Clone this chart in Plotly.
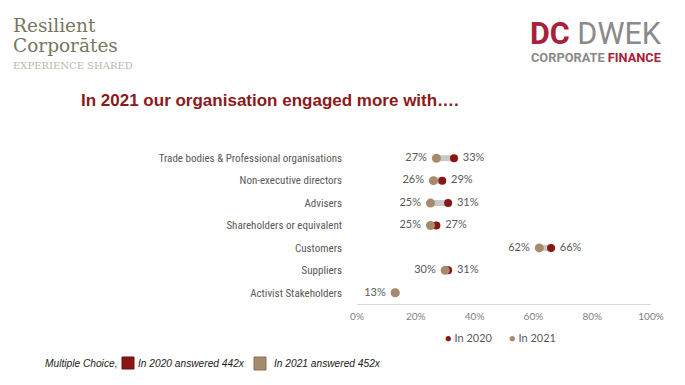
import plotly.graph_objects as go

categories = [
    "Trade bodies & Professional organisations",
    "Non-executive directors",
    "Advisers",
    "Shareholders or equivalent",
    "Customers",
    "Suppliers",
    "Activist Stakeholders",
]
values_2020 = [33, 29, 31, 27, 66, 31, 13]
values_2021 = [27, 26, 25, 25, 62, 30, 13]
x_ticks = [0, 20, 40, 60, 80, 100]
x_tick_labels = ["0%", "20%", "40%", "60%", "80%", "100%"]

RED = "#8B1414"
TAN = "#A68A6D"
GREY_TXT = "#595959"

W, H = 685, 385
L, R, T, B = 357, 34, 147, 81
PW, PH = W - L - R, H - T - B


def px(x):
    return (x - L) / PW


def py(y):
    return (H - B - y) / PH


# connectors
cx, cy = [], []
for c, a, b in zip(categories, values_2021, values_2020):
    cx += [a, b, None]
    cy += [c, c, None]

text_2020 = [f" {b}%" if b != a else "" for a, b in zip(values_2021, values_2020)]
text_2021 = [f"{a}% " for a in values_2021]

fig = go.Figure()
fig.add_trace(go.Scatter(
    x=cx, y=cy, mode="lines", line=dict(color="#C8C8C8", width=6),
    showlegend=False, hoverinfo="skip"))
fig.add_trace(go.Scatter(
    x=values_2020, y=categories, mode="markers+text", name="In 2020",
    marker=dict(color=RED, size=8),
    text=text_2020, textposition="middle right",
    textfont=dict(family="Lato, Open Sans, sans-serif", size=11, color=GREY_TXT)))
fig.add_trace(go.Scatter(
    x=values_2021, y=categories, mode="markers+text", name="In 2021",
    marker=dict(color=TAN, size=9),
    text=text_2021, textposition="middle left",
    textfont=dict(family="Lato, Open Sans, sans-serif", size=11, color=GREY_TXT)))

LOGO_FONT = "DejaVu Serif, serif"
annotations = [
    dict(text="Resilient", x=px(11), y=py(26), font=dict(family=LOGO_FONT, size=18.5, color="#77775F")),
    dict(text="Corporātes", x=px(11), y=py(46), font=dict(family=LOGO_FONT, size=18.5, color="#77775F")),
    dict(text="EXPERIENCE SHARED", x=px(11), y=py(66), font=dict(family=LOGO_FONT, size=10, color="#B8B8AC")),
    dict(text="<b><span style='color:#A8203A'>DC</span></b> <span style='color:#8A8A8A'>DWEK</span>",
         x=px(528), y=py(34), font=dict(family="Roboto, sans-serif", size=30.5)),
    dict(text="<b><span style='color:#8A8A8A'>CORPORATE</span> <span style='color:#A8203A'>FINANCE</span></b>",
         x=px(529), y=py(58), font=dict(family="Roboto, sans-serif", size=12.8)),
    dict(text="<b>In 2021 our organisation engaged more with….</b>", x=px(79), y=py(100),
         font=dict(family="Liberation Sans, Arial, sans-serif", size=17, color="#8B1A1A")),
    dict(text="<i>Multiple Choice,</i>", x=px(43), y=py(363),
         font=dict(family="Liberation Sans, Arial, sans-serif", size=10.2, color="#222222")),
    dict(text="<i>In 2020 answered 442x</i>", x=px(136), y=py(363),
         font=dict(family="Liberation Sans, Arial, sans-serif", size=10.2, color="#222222")),
    dict(text="<i>In 2021 answered 452x</i>", x=px(272), y=py(363),
         font=dict(family="Liberation Sans, Arial, sans-serif", size=10.2, color="#222222")),
    dict(text=f"<span style='color:{RED}'>●</span> In 2020", x=px(443), y=py(337),
         font=dict(family="Lato, Open Sans, sans-serif", size=11, color=GREY_TXT)),
    dict(text=f"<span style='color:{TAN}'>●</span> In 2021", x=px(507), y=py(337),
         font=dict(family="Lato, Open Sans, sans-serif", size=11, color=GREY_TXT)),
]
for a in annotations:
    a.update(xref="paper", yref="paper", xanchor="left", yanchor="middle", showarrow=False)

shapes = [
    dict(type="rect", xref="paper", yref="paper", x0=px(122), x1=px(134), y0=py(369), y1=py(357),
         fillcolor="#8B1414", line=dict(color="#6E1010", width=1)),
    dict(type="rect", xref="paper", yref="paper", x0=px(254), x1=px(266), y0=py(370), y1=py(357),
         fillcolor="#A68A6D", line=dict(color="#8C7358", width=1)),
]

fig.update_layout(
    width=W, height=H,
    margin=dict(l=L, r=R, t=T, b=B),
    paper_bgcolor="white", plot_bgcolor="white",
    annotations=annotations, shapes=shapes,
    showlegend=False,
    xaxis=dict(range=[0, 100], tickvals=x_ticks, ticktext=x_tick_labels, showgrid=False,
               zeroline=False, showline=True, linecolor="#D9D9D9", linewidth=1,
               tickfont=dict(family="Lato, Open Sans, sans-serif", size=10, color="#7F7F7F"),
               ticks="", ticklabelstandoff=3),
    yaxis=dict(categoryorder="array", categoryarray=categories, range=[6.5, -0.5],
               showgrid=False, zeroline=False, showline=False, ticks="",
               ticklabelstandoff=14,
               tickfont=dict(family="Liberation Sans Narrow, Arial Narrow, Roboto Condensed, sans-serif",
                             size=11, color=GREY_TXT)),
)

fig.write_html("out.html", config={"displayModeBar": False},
               post_script="document.body.style.margin='0';")
